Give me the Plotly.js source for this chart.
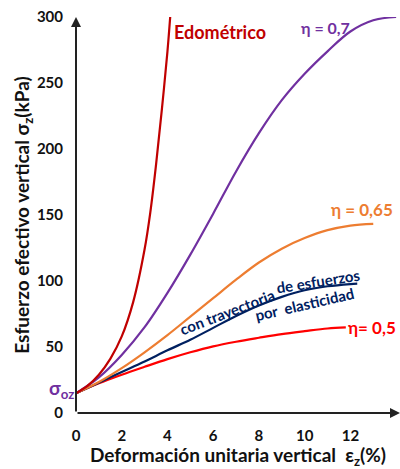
<!DOCTYPE html>
<html>
<head>
<meta charset="utf-8">
<script src="https://cdn.plot.ly/plotly-3.0.1.min.js"></script>
<style>html,body{margin:0;padding:0;background:#fff;}#chart{width:400px;height:469px;}</style>
</head>
<body>
<div id="chart"></div>
<script>
// Edométrico
const epsEdo = [0, 0.5, 1, 1.5, 2, 2.5, 3, 3.25, 3.5, 3.75, 4, 4.12];
const sigEdo = [15, 20.5, 29, 41, 58, 84, 124, 152, 188, 229, 274, 300];
// eta = 0,7
const eps07 = [0, 1, 2, 3, 4, 5, 6, 7, 8, 9, 10, 11, 12, 13, 14];
const sig07 = [15, 27, 44, 65, 91, 120, 151, 183, 212, 237, 257, 274, 289, 297.5, 300];
// eta = 0,65
const eps065 = [0, 1, 2, 3, 4, 5, 6, 7, 8, 9, 10, 11, 12, 13];
const sig065 = [15, 23.5, 34, 46, 59, 73, 87, 101, 114, 124.5, 132.5, 138.5, 142, 143.3];
// con trayectoria de esfuerzos por elasticidad
const epsEla = [0, 1, 2, 3, 4, 5, 6, 7, 8, 9, 10, 11, 12, 12.3];
const sigEla = [15, 23, 31, 39, 47.5, 55.5, 64.5, 73.5, 81.5, 88, 93, 96, 97.7, 98];
// eta = 0,5
const eps05 = [0, 1, 2, 3, 4, 5, 6, 7, 8, 9, 10, 11, 11.8];
const sig05 = [15, 22.5, 29, 35, 40.8, 46, 50.5, 54, 57, 59.8, 62, 64, 64.8];

const xTicks = [0, 2, 4, 6, 8, 10, 12, 14];
const yTicks = [0, 50, 100, 150, 200, 250, 300];

const FONT = 'Lato, "Open Sans", sans-serif';
function tr(x, y, color) {
  return {x: x, y: y, mode: 'lines', type: 'scatter', line: {color: color, width: 2.2, shape: 'spline', smoothing: 1}, hoverinfo: 'skip'};
}
const data = [
  tr(eps05, sig05, '#ff0000'),
  tr(epsEla, sigEla, '#002060'),
  tr(eps065, sig065, '#ed7d31'),
  tr(eps07, sig07, '#7030a0'),
  tr(epsEdo, sigEdo, '#c00000')
];
function lab(x, y, text, color, size, angle) {
  return {x: x, y: y, xref: 'x', yref: 'y', text: text, showarrow: false,
    font: {family: FONT, size: size, color: color, weight: 'bold'}, textangle: angle || 0,
    xanchor: 'center', yanchor: 'middle'};
}
const annotations = [
  // axis arrows
  {x: 0, y: 300, ax: 0, ay: 0, xref: 'x', yref: 'y', axref: 'x', ayref: 'y', showarrow: true, arrowhead: 2, arrowsize: 1, arrowwidth: 2, arrowcolor: '#222', text: ''},
  {x: 14.17, y: 0, ax: 0, ay: 0, xref: 'x', yref: 'y', axref: 'x', ayref: 'y', showarrow: true, arrowhead: 2, arrowsize: 1, arrowwidth: 2, arrowcolor: '#222', text: ''},
  lab(6.3, 289, 'Edométrico', '#c00000', 18),
  lab(10.9, 292, 'η = 0,7', '#7030a0', 16),
  lab(12.5, 154, 'η = 0,65', '#ed7d31', 17),
  lab(12.95, 64.4, 'η= 0,5', '#ff0000', 17),
  lab(6.6, 76.5, 'con trayectoria', '#002060', 15, -21),
  lab(10.6, 100, 'de esfuerzos', '#002060', 15, -9),
  lab(10.0, 82.6, 'por  elasticidad', '#002060', 15, -13),
  {x: -0.046, y: 18, xref: 'paper', yref: 'y', text: 'σ<sub>oz</sub>', showarrow: false,
   font: {family: FONT, size: 19, color: '#7030a0', weight: 'bold'}, xanchor: 'center', yanchor: 'middle'}
];
const layout = {
  width: 400, height: 469,
  margin: {l: 76, r: 0, t: 17, b: 56},
  paper_bgcolor: '#fff', plot_bgcolor: '#fff',
  showlegend: false,
  font: {family: FONT, color: '#111'},
  xaxis: {
    range: [0, 14.17], tickvals: xTicks, ticktext: xTicks.map(String),
    showgrid: false, zeroline: false, showline: false, ticks: '', ticklabelstandoff: 12,
    tickfont: {family: FONT, size: 15, color: '#111', weight: 'bold'},
    title: {text: 'Deformación unitaria vertical  ε<sub>z</sub>(%)', font: {family: FONT, size: 19, color: '#111', weight: 'bold'}, standoff: 3},
    automargin: false
  },
  yaxis: {
    range: [0, 300], tickvals: yTicks, ticktext: yTicks.map(String),
    showgrid: false, zeroline: false, showline: false, ticks: '', ticklabelstandoff: 12,
    tickfont: {family: FONT, size: 15, color: '#111', weight: 'bold'},
    title: {text: 'Esfuerzo efectivo vertical σ<sub>z</sub>(kPa)', font: {family: FONT, size: 19, color: '#111', weight: 'bold'}, standoff: 2},
    automargin: false
  },
  annotations: annotations
};
Plotly.newPlot('chart', data, layout, {displayModeBar: false, staticPlot: true});
</script>
</body>
</html>
